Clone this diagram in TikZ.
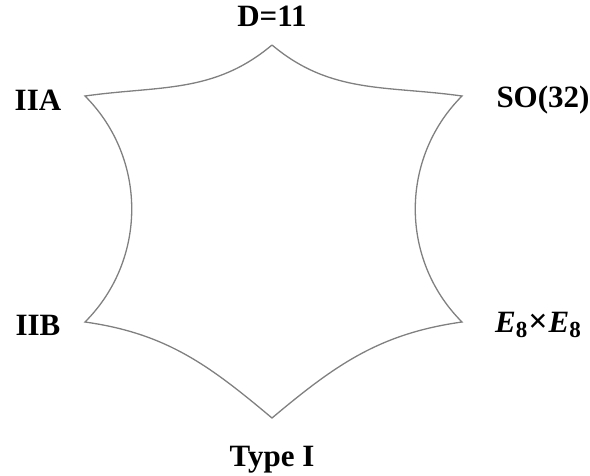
\documentclass[tikz,border=0pt]{standalone}
\usepackage{fontspec}
\setmainfont{Liberation Serif}
\newcommand{\subeight}{\raisebox{-0.3ex}{\fontsize{23}{24}\selectfont 8}}
\begin{document}
\begin{tikzpicture}[x=1pt,y=-1pt,
  edge/.style={draw=black!50, line width=1.3pt},
  lab/.style={font=\fontsize{31}{32}\selectfont\bfseries, inner sep=0pt, anchor=center}]
\useasboundingbox (0,0) rectangle (590,475);
\coordinate (T) at (272,45);
\coordinate (SO) at (462,96);
\coordinate (E) at (462,322);
\coordinate (B) at (272,418);
\coordinate (IIB) at (85,322);
\coordinate (IIA) at (85,96);
\draw[edge] (T) to[out=-40,in=172] (SO) to[out=225,in=135] (E) to[out=188,in=40] (B)
  to[out=140,in=-8] (IIB) to[out=45,in=-45] (IIA) to[out=8,in=220] (T);
\node[lab] (lT) at (272,16) {D=11};
\node[lab] (lA) at (38,100) {IIA};
\node[lab] (lS) at (543,100) {SO(32)};
\node[lab] (lB) at (38,325) {IIB};
\node[lab] (lE) at (538,325) {\itshape E\upshape\subeight\kern1pt{\fontsize{34}{34}\selectfont×}\kern1pt\itshape E\upshape\subeight};
\node[lab] (lI) at (272,460) {Type I};
\end{tikzpicture}
\end{document}
